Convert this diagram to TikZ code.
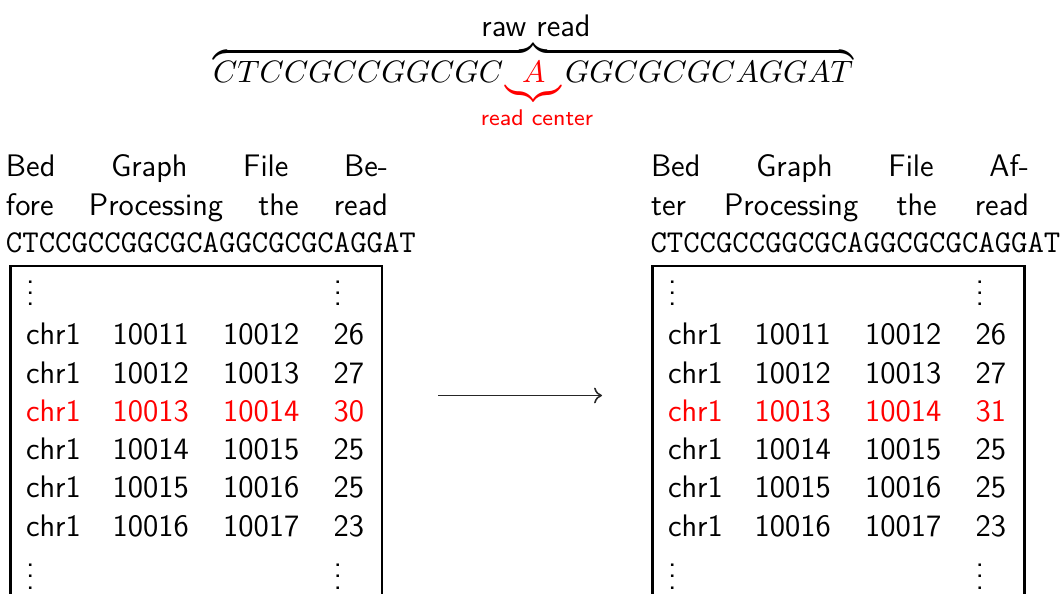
\documentclass[tikz,border=0pt]{standalone}
\usepackage{amsmath}
\usepackage{xcolor}
\usetikzlibrary{arrows.meta}
\renewcommand{\familydefault}{\sfdefault}
\newdimen\pxu \pxu=0.3534pt
\tikzset{
  every node/.style={inner sep=0pt, outer sep=0pt},
  cell/.style={anchor=base west, font=\fontsize{11}{13.6}\selectfont},
  hl/.style={cell, text=red},
  para/.style={anchor=base west, font=\fontsize{11}{13.6}\selectfont},
  seqtt/.style={anchor=base west, font=\fontsize{11.25}{13.6}\selectfont\ttfamily},
  boxline/.style={line width=0.85pt},
  flow/.style={-{To[length=2.8pt,width=5.6pt]}, line width=0.55pt, draw=black!85},
}
\begin{document}
\begin{tikzpicture}[x=0.3534pt, y=-0.3534pt]
\useasboundingbox (0,0) rectangle (1061,594);

% top: raw read
\node[anchor=base west] (seq) at (213,83)
  {\fontsize{10.95}{13.6}\selectfont$\displaystyle\overbrace{CTCCGCCGGCGC\hskip0.9pt\textcolor{red}{\underbrace{\hskip5.65pt A\hskip5.65pt}}\hskip1.2pt GGCGCGCAGGAT}$};
\node[anchor=base, font=\fontsize{11}{13.6}\selectfont] (rawlbl) at (536,37) {raw read};
\node[anchor=base, font=\fontsize{8}{10}\selectfont, text=red] (rclbl) at (537,126) {read center};

% left block
\node[para] (l1) at (6,177) {\makebox[382\pxu][s]{Bed Graph File Be-}};
\node[para] (l2) at (6,215.5) {\makebox[382\pxu][s]{fore Processing the read}};
\node[seqtt] (l3) at (6,252.5) {CTCCGCCGGCGCAGGCGCGCAGGAT};
\draw[boxline] (10.5,600) -- (10.5,266) -- (382,266) -- (382,600);

\node[cell] (lv1) at (26,306) {\vdots};
\node[cell] (lv2) at (333.5,306) {\vdots};
\node[cell] (la1) at (26,345) {chr1};   \node[cell] (la2) at (112.7,345) {10011}; \node[cell] (la3) at (223,345) {10012}; \node[cell] (la4) at (333.5,345) {26};
\node[cell] (lb1) at (26,383.2) {chr1}; \node[cell] (lb2) at (112.7,383.2) {10012}; \node[cell] (lb3) at (223,383.2) {10013}; \node[cell] (lb4) at (333.5,383.2) {27};
\node[hl] (lc1) at (26,421.4) {chr1};   \node[hl] (lc2) at (112.7,421.4) {10013}; \node[hl] (lc3) at (223,421.4) {10014}; \node[hl] (lc4) at (333.5,421.4) {30};
\node[cell] (ld1) at (26,459.6) {chr1}; \node[cell] (ld2) at (112.7,459.6) {10014}; \node[cell] (ld3) at (223,459.6) {10015}; \node[cell] (ld4) at (333.5,459.6) {25};
\node[cell] (le1) at (26,497.8) {chr1}; \node[cell] (le2) at (112.7,497.8) {10015}; \node[cell] (le3) at (223,497.8) {10016}; \node[cell] (le4) at (333.5,497.8) {25};
\node[cell] (lf1) at (26,536) {chr1};   \node[cell] (lf2) at (112.7,536) {10016}; \node[cell] (lf3) at (223,536) {10017}; \node[cell] (lf4) at (333.5,536) {23};
\node[cell] (lv3) at (26,589) {\vdots};
\node[cell] (lv4) at (333.5,589) {\vdots};

% arrow
\coordinate (arrs) at (438,395.5);
\coordinate (arre) at (602,395.5);
\draw[flow] (arrs) -- (arre);

% right block
\node[para] (r1) at (651,177) {\makebox[378\pxu][s]{Bed Graph File Af-}};
\node[para] (r2) at (651,215.5) {\makebox[378\pxu][s]{ter Processing the read}};
\node[seqtt] (r3) at (650.5,252.5) {CTCCGCCGGCGCAGGCGCGCAGGAT};
\draw[boxline] (652.5,600) -- (652.5,266) -- (1024.5,266) -- (1024.5,600);

\node[cell] (rv1) at (668,306) {\vdots};
\node[cell] (rv2) at (975.5,306) {\vdots};
\node[cell] (ra1) at (668,345) {chr1};   \node[cell] (ra2) at (754.7,345) {10011}; \node[cell] (ra3) at (865,345) {10012}; \node[cell] (ra4) at (975.5,345) {26};
\node[cell] (rb1) at (668,383.2) {chr1}; \node[cell] (rb2) at (754.7,383.2) {10012}; \node[cell] (rb3) at (865,383.2) {10013}; \node[cell] (rb4) at (975.5,383.2) {27};
\node[hl] (rc1) at (668,421.4) {chr1};   \node[hl] (rc2) at (754.7,421.4) {10013}; \node[hl] (rc3) at (865,421.4) {10014}; \node[hl] (rc4) at (975.5,421.4) {31};
\node[cell] (rd1) at (668,459.6) {chr1}; \node[cell] (rd2) at (754.7,459.6) {10014}; \node[cell] (rd3) at (865,459.6) {10015}; \node[cell] (rd4) at (975.5,459.6) {25};
\node[cell] (re1) at (668,497.8) {chr1}; \node[cell] (re2) at (754.7,497.8) {10015}; \node[cell] (re3) at (865,497.8) {10016}; \node[cell] (re4) at (975.5,497.8) {25};
\node[cell] (rf1) at (668,536) {chr1};   \node[cell] (rf2) at (754.7,536) {10016}; \node[cell] (rf3) at (865,536) {10017}; \node[cell] (rf4) at (975.5,536) {23};
\node[cell] (rv3) at (668,589) {\vdots};
\node[cell] (rv4) at (975.5,589) {\vdots};
\end{tikzpicture}
\end{document}
